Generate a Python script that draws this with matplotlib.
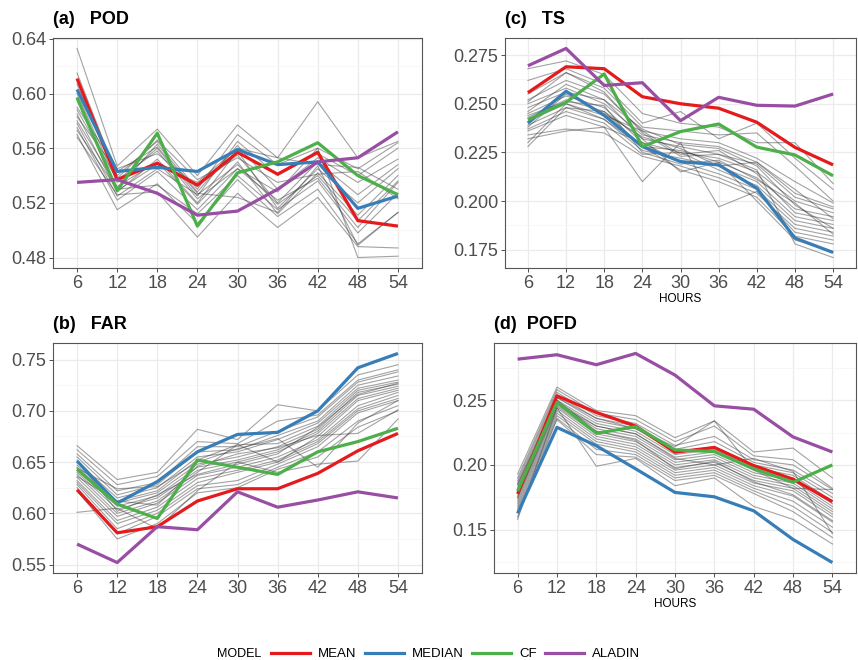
import numpy as np
import matplotlib
matplotlib.use("Agg")
import matplotlib.pyplot as plt
from matplotlib.lines import Line2D
from matplotlib.ticker import MultipleLocator

plt.rcParams['font.family'] = ['Liberation Sans', 'DejaVu Sans']

hours = [6, 12, 18, 24, 30, 36, 42, 48, 54]
models = ["MEAN", "MEDIAN", "CF", "ALADIN"]
colors = {"MEAN": "#E41A1C", "MEDIAN": "#377EB8", "CF": "#4DAF4A", "ALADIN": "#984EA3"}

# POD
pod_mean = [0.611, 0.537, 0.549, 0.533, 0.557, 0.541, 0.557, 0.507, 0.503]
pod_median = [0.603, 0.543, 0.546, 0.543, 0.559, 0.548, 0.550, 0.516, 0.525]
pod_cf = [0.597, 0.529, 0.571, 0.503, 0.542, 0.550, 0.564, 0.540, 0.526]
pod_aladin = [0.535, 0.537, 0.527, 0.511, 0.514, 0.530, 0.550, 0.553, 0.572]
pod_members = [
    [0.633, 0.547, 0.574, 0.540, 0.577, 0.553, 0.594, 0.553, 0.565],
    [0.615, 0.540, 0.565, 0.530, 0.570, 0.548, 0.560, 0.545, 0.564],
    [0.600, 0.535, 0.560, 0.525, 0.565, 0.540, 0.556, 0.540, 0.560],
    [0.595, 0.530, 0.563, 0.528, 0.562, 0.530, 0.553, 0.535, 0.552],
    [0.590, 0.545, 0.556, 0.532, 0.555, 0.520, 0.550, 0.526, 0.548],
    [0.585, 0.528, 0.552, 0.520, 0.558, 0.516, 0.545, 0.520, 0.545],
    [0.580, 0.532, 0.550, 0.519, 0.550, 0.512, 0.542, 0.511, 0.540],
    [0.578, 0.525, 0.545, 0.526, 0.548, 0.519, 0.540, 0.507, 0.536],
    [0.575, 0.522, 0.543, 0.515, 0.545, 0.522, 0.538, 0.502, 0.535],
    [0.573, 0.530, 0.533, 0.512, 0.540, 0.515, 0.536, 0.498, 0.527],
    [0.570, 0.515, 0.534, 0.505, 0.537, 0.510, 0.530, 0.490, 0.513],
    [0.568, 0.526, 0.528, 0.495, 0.527, 0.502, 0.524, 0.488, 0.487],
    [0.588, 0.537, 0.558, 0.523, 0.545, 0.528, 0.560, 0.480, 0.481],
    [0.583, 0.543, 0.561, 0.527, 0.524, 0.513, 0.547, 0.489, 0.513],
    [0.597, 0.529, 0.548, 0.535, 0.560, 0.553, 0.548, 0.546, 0.530],
    [0.607, 0.538, 0.566, 0.537, 0.553, 0.535, 0.541, 0.543, 0.523],
]

# FAR
far_mean = [0.623, 0.581, 0.587, 0.612, 0.624, 0.624, 0.639, 0.661, 0.678]
far_median = [0.651, 0.610, 0.631, 0.660, 0.677, 0.679, 0.700, 0.742, 0.756]
far_cf = [0.643, 0.609, 0.595, 0.652, 0.645, 0.638, 0.660, 0.670, 0.683]
far_aladin = [0.570, 0.552, 0.587, 0.584, 0.621, 0.606, 0.613, 0.621, 0.615]
far_members = [
    [0.666, 0.633, 0.640, 0.682, 0.672, 0.706, 0.700, 0.735, 0.745],
    [0.662, 0.628, 0.636, 0.670, 0.668, 0.690, 0.696, 0.730, 0.740],
    [0.658, 0.622, 0.630, 0.665, 0.665, 0.680, 0.694, 0.728, 0.738],
    [0.655, 0.618, 0.628, 0.660, 0.662, 0.676, 0.690, 0.725, 0.734],
    [0.650, 0.615, 0.625, 0.655, 0.660, 0.672, 0.688, 0.722, 0.730],
    [0.647, 0.612, 0.622, 0.652, 0.667, 0.668, 0.685, 0.720, 0.728],
    [0.645, 0.610, 0.620, 0.648, 0.655, 0.665, 0.682, 0.718, 0.726],
    [0.642, 0.607, 0.617, 0.645, 0.652, 0.662, 0.680, 0.715, 0.724],
    [0.640, 0.604, 0.615, 0.642, 0.650, 0.660, 0.678, 0.712, 0.722],
    [0.638, 0.600, 0.612, 0.640, 0.667, 0.650, 0.675, 0.710, 0.720],
    [0.635, 0.597, 0.610, 0.637, 0.645, 0.655, 0.672, 0.705, 0.718],
    [0.632, 0.593, 0.606, 0.634, 0.642, 0.652, 0.670, 0.702, 0.715],
    [0.630, 0.590, 0.603, 0.630, 0.640, 0.650, 0.668, 0.700, 0.712],
    [0.628, 0.585, 0.600, 0.627, 0.632, 0.648, 0.665, 0.698, 0.710],
    [0.625, 0.580, 0.597, 0.624, 0.628, 0.645, 0.660, 0.690, 0.705],
    [0.622, 0.575, 0.590, 0.620, 0.625, 0.643, 0.655, 0.684, 0.700],
    [0.601, 0.605, 0.585, 0.622, 0.650, 0.640, 0.648, 0.651, 0.692],
    [0.636, 0.612, 0.608, 0.646, 0.658, 0.664, 0.676, 0.678, 0.701],
    [0.644, 0.624, 0.626, 0.650, 0.663, 0.673, 0.645, 0.688, 0.710],
    [0.652, 0.602, 0.618, 0.638, 0.648, 0.658, 0.684, 0.716, 0.727],
]

# TS
ts_mean = [0.2557, 0.269, 0.268, 0.2536, 0.250, 0.2477, 0.2405, 0.2276, 0.2186]
ts_median = [0.240, 0.2564, 0.244, 0.228, 0.2203, 0.2186, 0.2066, 0.181, 0.1736]
ts_cf = [0.2418, 0.2507, 0.2653, 0.228, 0.2357, 0.2396, 0.2277, 0.2237, 0.213]
ts_aladin = [0.2695, 0.2784, 0.2594, 0.2608, 0.2413, 0.2533, 0.2492, 0.2488, 0.255]
ts_members = [
    [0.268, 0.272, 0.265, 0.245, 0.240, 0.238, 0.230, 0.230, 0.209],
    [0.262, 0.268, 0.260, 0.240, 0.246, 0.232, 0.240, 0.222, 0.206],
    [0.255, 0.266, 0.258, 0.238, 0.236, 0.234, 0.235, 0.218, 0.200],
    [0.252, 0.262, 0.255, 0.236, 0.232, 0.230, 0.222, 0.210, 0.199],
    [0.250, 0.258, 0.250, 0.234, 0.230, 0.228, 0.220, 0.204, 0.197],
    [0.248, 0.256, 0.252, 0.232, 0.228, 0.224, 0.219, 0.202, 0.196],
    [0.245, 0.254, 0.248, 0.230, 0.225, 0.222, 0.215, 0.200, 0.194],
    [0.243, 0.252, 0.246, 0.228, 0.226, 0.220, 0.212, 0.196, 0.192],
    [0.241, 0.250, 0.244, 0.236, 0.224, 0.226, 0.214, 0.194, 0.190],
    [0.239, 0.248, 0.242, 0.226, 0.222, 0.218, 0.210, 0.192, 0.188],
    [0.237, 0.246, 0.240, 0.224, 0.225, 0.216, 0.208, 0.190, 0.186],
    [0.236, 0.244, 0.238, 0.230, 0.220, 0.214, 0.206, 0.188, 0.184],
    [0.234, 0.237, 0.235, 0.223, 0.218, 0.212, 0.204, 0.186, 0.182],
    [0.232, 0.236, 0.238, 0.210, 0.230, 0.197, 0.205, 0.184, 0.180],
    [0.230, 0.250, 0.242, 0.228, 0.216, 0.210, 0.202, 0.182, 0.178],
    [0.228, 0.248, 0.246, 0.232, 0.215, 0.220, 0.200, 0.180, 0.174],
    [0.251, 0.266, 0.256, 0.235, 0.223, 0.224, 0.216, 0.178, 0.171],
    [0.246, 0.260, 0.252, 0.237, 0.229, 0.227, 0.218, 0.198, 0.186],
    [0.238, 0.255, 0.245, 0.233, 0.227, 0.218, 0.220, 0.206, 0.191],
    [0.244, 0.251, 0.249, 0.225, 0.219, 0.221, 0.211, 0.199, 0.183],
]

# POFD
pofd_mean = [0.1776, 0.2533, 0.2405, 0.230, 0.2098, 0.2135, 0.1995, 0.189, 0.1717]
pofd_median = [0.1626, 0.229, 0.2148, 0.197, 0.1788, 0.1754, 0.1646, 0.1425, 0.1247]
pofd_cf = [0.180, 0.2482, 0.2244, 0.2295, 0.2116, 0.2103, 0.197, 0.1866, 0.200]
pofd_aladin = [0.2816, 0.285, 0.2773, 0.286, 0.2693, 0.2456, 0.243, 0.2216, 0.210]
pofd_members = [
    [0.193, 0.260, 0.242, 0.238, 0.221, 0.234, 0.210, 0.213, 0.190],
    [0.190, 0.258, 0.240, 0.235, 0.218, 0.230, 0.207, 0.204, 0.182],
    [0.188, 0.256, 0.238, 0.232, 0.215, 0.222, 0.204, 0.200, 0.181],
    [0.186, 0.254, 0.236, 0.230, 0.212, 0.218, 0.202, 0.196, 0.178],
    [0.184, 0.252, 0.234, 0.228, 0.210, 0.214, 0.200, 0.194, 0.175],
    [0.182, 0.250, 0.232, 0.226, 0.208, 0.212, 0.198, 0.192, 0.172],
    [0.180, 0.249, 0.230, 0.224, 0.206, 0.210, 0.196, 0.190, 0.170],
    [0.178, 0.248, 0.228, 0.222, 0.204, 0.208, 0.194, 0.188, 0.168],
    [0.176, 0.246, 0.226, 0.220, 0.202, 0.206, 0.192, 0.186, 0.166],
    [0.174, 0.245, 0.224, 0.218, 0.200, 0.204, 0.190, 0.184, 0.164],
    [0.172, 0.244, 0.222, 0.216, 0.198, 0.202, 0.188, 0.182, 0.162],
    [0.170, 0.242, 0.220, 0.214, 0.196, 0.200, 0.186, 0.180, 0.160],
    [0.168, 0.240, 0.218, 0.212, 0.194, 0.198, 0.184, 0.176, 0.156],
    [0.166, 0.238, 0.216, 0.210, 0.192, 0.196, 0.182, 0.172, 0.152],
    [0.164, 0.236, 0.212, 0.208, 0.190, 0.194, 0.180, 0.168, 0.148],
    [0.160, 0.235, 0.208, 0.206, 0.188, 0.192, 0.178, 0.164, 0.144],
    [0.158, 0.244, 0.199, 0.205, 0.184, 0.190, 0.168, 0.158, 0.139],
    [0.181, 0.252, 0.236, 0.228, 0.214, 0.234, 0.196, 0.182, 0.181],
    [0.175, 0.247, 0.230, 0.224, 0.205, 0.200, 0.205, 0.195, 0.147],
    [0.185, 0.250, 0.226, 0.219, 0.197, 0.203, 0.187, 0.177, 0.157],
]

W, H = 858, 660
fig = plt.figure(figsize=(W / 100, H / 100), dpi=100)


def box(l, t, r, b):
    return [l / W, 1 - b / H, (r - l) / W, (b - t) / H]


panels = [
    ("(a)   POD", box(53, 38, 422, 268), pod_members,
     [pod_mean, pod_median, pod_cf, pod_aladin], 0.04, "%.2f", False),
    ("(c)   TS", box(505, 38, 856, 268), ts_members,
     [ts_mean, ts_median, ts_cf, ts_aladin], 0.025, "%.3f", True),
    ("(b)   FAR", box(53, 343, 422, 573), far_members,
     [far_mean, far_median, far_cf, far_aladin], 0.05, "%.2f", False),
    ("(d)  POFD", box(494, 343, 856, 573), pofd_members,
     [pofd_mean, pofd_median, pofd_cf, pofd_aladin], 0.05, "%.2f", True),
]

for title, pos, members, series, step, fmt, xlab in panels:
    ax = fig.add_axes(pos)
    ax.set_axisbelow(True)
    for m in members:
        ax.plot(hours, m, color="#333333", alpha=0.45, lw=0.8)
    for name, vals in zip(models, series):
        ax.plot(hours, vals, color=colors[name], lw=2.3, solid_capstyle="butt")
    ax.margins(x=0.075, y=0.05)
    ax.set_xticks(hours)
    ax.yaxis.set_major_locator(MultipleLocator(step))
    ax.yaxis.set_minor_locator(MultipleLocator(step / 2))
    ax.yaxis.set_major_formatter(matplotlib.ticker.FormatStrFormatter(fmt))
    ax.grid(which="major", color="#EBEBEB", lw=0.9)
    ax.grid(which="minor", axis="y", color="#F4F4F4", lw=0.5)
    ax.tick_params(which="minor", length=0)
    ax.tick_params(which="major", length=3, width=0.6, color="#333333",
                   labelsize=13, labelcolor="#4D4D4D", pad=2)
    for s in ax.spines.values():
        s.set_color("#555555")
        s.set_linewidth(0.8)
    ax.text(0, 1.045, title, transform=ax.transAxes, fontsize=13,
            fontweight="bold", ha="left", va="bottom")
    if xlab:
        ax.set_xlabel("HOURS", fontsize=8.5, labelpad=1)

handles = [Line2D([], [], color=colors[n], lw=2.3) for n in models]
fig.legend(handles, models, loc="center", bbox_to_anchor=(0.531, 1 - 654 / H),
           ncol=4, frameon=False, fontsize=9.5, handlelength=3.0,
           handletextpad=0.6, columnspacing=0.6)
fig.text(217 / W, 1 - 654 / H, "MODEL", fontsize=9, ha="left", va="center")

fig.savefig("out.png", dpi=100)
